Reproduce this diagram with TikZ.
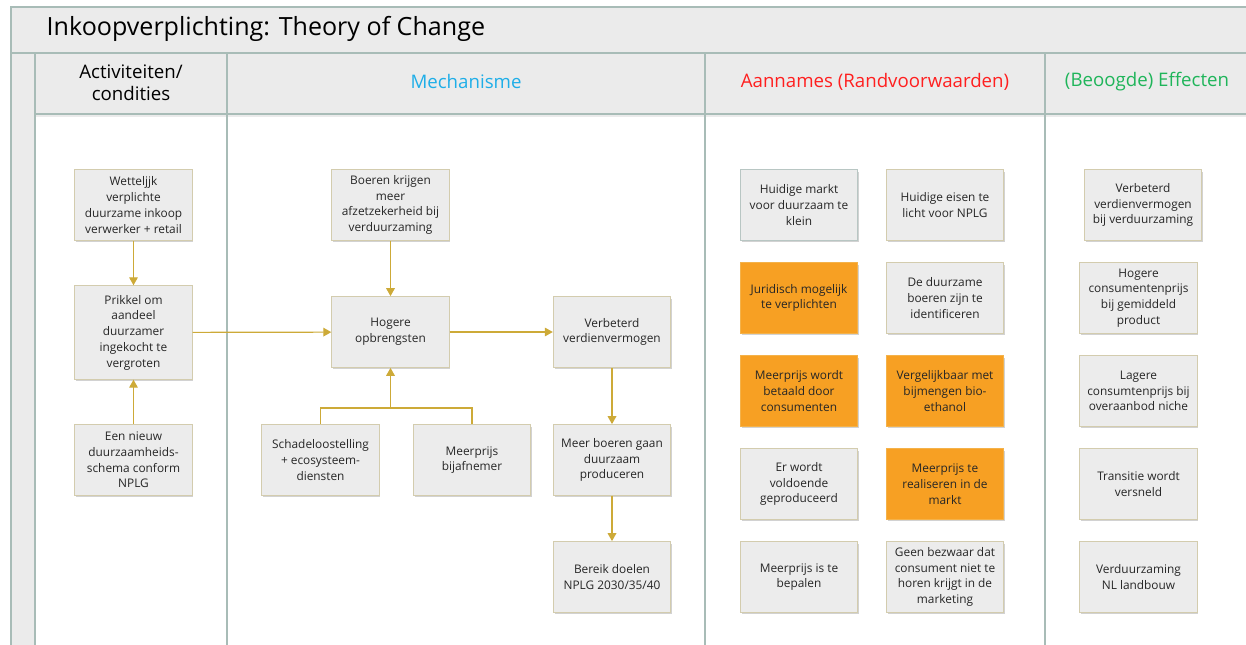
\documentclass[tikz,border=0pt]{standalone}
\usepackage{fontspec}
\setmainfont{Open Sans}
\usetikzlibrary{arrows.meta,shadows}
\definecolor{headgray}{HTML}{EBEBEB}
\definecolor{framegreen}{HTML}{A8BCB7}
\definecolor{boxfill}{HTML}{ECECEC}
\definecolor{boxline}{HTML}{D3CCAE}
\definecolor{boxblue}{HTML}{B8C6C3}
\definecolor{orangefill}{HTML}{F7A023}
\definecolor{orangeline}{HTML}{F4B24A}
\definecolor{linkgold}{HTML}{CDAA38}
\definecolor{mechblue}{HTML}{1EAEE8}
\definecolor{aanred}{HTML}{FF1F1F}
\definecolor{effgreen}{HTML}{1FB55A}
\begin{document}
\begin{tikzpicture}[x=0.75pt, y=-0.75pt,
    box/.style={draw=boxline, fill=boxfill, line width=0.8pt, minimum width=88pt, minimum height=53pt,
        inner sep=1pt, align=center, text=black!85, font=\fontsize{8.9}{11.8}\selectfont,
        drop shadow={shadow xshift=0.9pt, shadow yshift=-1.6pt, opacity=0.25, fill=black!70}},
    orangebox/.style={box, fill=orangefill, draw=orangeline},
    colhead/.style={align=center, font=\fontsize{14}{16.5}\selectfont},
    frame/.style={draw=framegreen, line width=1pt},
    link/.style={draw=linkgold, line width=0.9pt},
    arrow/.style={link, -{Triangle[width=6.5pt,length=6pt]}}]
    \useasboundingbox (0,0) rectangle (1246,645);
    \clip (0,0) rectangle (1246,645);

    % swimlane frame
    \fill [headgray] (11,7) rectangle (1260,114);
    \fill [headgray] (11,114) rectangle (35,660);
    \fill [black, opacity=0.08] (35,114) rectangle (1260,117);
    \draw [frame] (11,660) -- (11,7) -- (1260,7);
    \draw [frame] (11,53) -- (1260,53);
    \draw [frame] (35,114) -- (1260,114);
    \foreach \xs in {35,227,705,1045}
        \draw [frame] (\xs,53) -- (\xs,660);

    \node [anchor=west, font=\fontsize{18.8}{22}\selectfont] (title) at (42,29) {Inkoopverplichting: Theory of Change};
    \node [colhead] (hact) at (131,83) {Activiteiten/\\condities};
    \node [colhead, text=mechblue] (hmech) at (466,82) {Mechanisme};
    \node [colhead, text=aanred] (haan) at (875,82) {Aannames (Randvoorwaarden)};
    \node [colhead, text=effgreen] (heff) at (1147,82) {(Beoogde) Effecten};

    % activiteiten
    \node [box] (wet) at (133.5,205) {Wetteljjk\\verplichte\\duurzame inkoop\\verwerker + retail};
    \node [box, minimum height=70pt] (prik) at (133.5,332.5) {Prikkel om\\aandeel\\duurzamer\\ingekocht te\\vergroten};
    \node [box] (nieuw) at (133.5,460) {Een nieuw\\duurzaamheids-\\schema conform\\NPLG};

    % mechanisme
    \node [box] (boer) at (390.5,205) {Boeren krijgen\\meer\\afzetzekerheid bij\\verduurzaming};
    \node [box] (hog) at (390.5,332) {Hogere\\opbrengsten};
    \node [box] (verb) at (612,332) {Verbeterd\\verdienvermogen};
    \node [box] (schade) at (320.5,460) {Schadeloostelling\\+ ecosysteem-\\diensten};
    \node [box] (meerp) at (472,460) {Meerprijs\\bijafnemer};
    \node [box] (meer) at (612,460) {Meer boeren gaan\\duurzaam\\produceren};
    \node [box] (bereik) at (612,577) {Bereik doelen\\NPLG 2030/35/40};
    \coordinate (join) at (390.5,408);

    % aannames
    \node [box, draw=boxblue] (a1) at (799,205) {Huidige markt\\voor duurzaam te\\klein};
    \node [box] (a2) at (945,205) {Huidige eisen te\\licht voor NPLG};
    \node [orangebox] (a3) at (799,298) {Juridisch mogelijk\\te verplichten};
    \node [box] (a4) at (945,298) {De duurzame\\boeren zijn te\\identificeren};
    \node [orangebox] (a5) at (799,391) {Meerprijs wordt\\betaald door\\consumenten};
    \node [orangebox] (a6) at (945,391) {Vergelijkbaar met\\bijmengen bio-\\ethanol};
    \node [box] (a7) at (799,484) {Er wordt\\voldoende\\geproduceerd};
    \node [orangebox] (a8) at (945,484) {Meerprijs te\\realiseren in de\\markt};
    \node [box] (a9) at (799,577) {Meerprijs is te\\bepalen};
    \node [box] (a10) at (945,577) {Geen bezwaar dat\\consument niet te\\horen krijgt in de\\marketing};

    % effecten
    \node [box] (e1) at (1143,205) {Verbeterd\\verdienvermogen\\bij verduurzaming};
    \node [box] (e2) at (1138.5,298) {Hogere\\consumentenprijs\\bij gemiddeld\\product};
    \node [box] (e3) at (1138.5,391) {Lagere\\consumtenprijs bij\\overaanbod niche};
    \node [box] (e4) at (1138.5,484) {Transitie wordt\\versneld};
    \node [box] (e5) at (1138.5,577) {Verduurzaming\\NL landbouw};

    % verbindingen
    \draw [arrow] (wet) -- (prik);
    \draw [arrow] (nieuw) -- (prik);
    \draw [arrow] (prik) -- (hog);
    \draw [arrow] (boer) -- (hog);
    \draw [arrow] (hog) -- (verb);
    \draw [arrow] (verb) -- (meer);
    \draw [arrow] (meer) -- (bereik);
    \draw [link] (schade.north) |- (join) -| (meerp.north);
    \draw [arrow] (join) -- (hog.south);
\end{tikzpicture}
\end{document}
